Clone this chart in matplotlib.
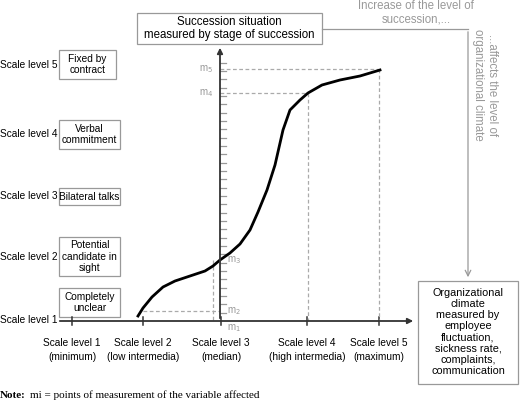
import matplotlib
matplotlib.use("Agg")
import matplotlib.pyplot as plt
from matplotlib.patches import Rectangle

plt.rcParams['font.family'] = ['Liberation Sans', 'DejaVu Sans']

scale_labels = ["Scale level 1", "Scale level 2", "Scale level 3", "Scale level 4", "Scale level 5"]
stage_labels = ["Completely\nunclear", "Potential\ncandidate in\nsight", "Bilateral talks",
                "Verbal\ncommitment", "Fixed by\ncontract"]
x_labels = ["Scale level 1\n(minimum)", "Scale level 2\n(low intermedia)", "Scale level 3\n(median)",
            "Scale level 4\n(high intermedia)", "Scale level 5\n(maximum)"]
# curve (in drawing units: x right, y down)
curve_x = [138, 143, 152, 163, 175, 190, 205, 213, 220, 230, 240, 250, 258, 267, 275, 283, 290, 300, 308, 322, 340, 360, 380]
curve_y = [316, 308, 297, 287, 281, 276, 271, 266, 260, 253, 244, 230, 212, 190, 165, 130, 110, 100, 93, 85, 80, 76, 70]

fig = plt.figure(figsize=(5.2, 4.09), dpi=100)
ax = fig.add_axes([0, 0, 1, 1])
ax.set_xlim(0, 520); ax.set_ylim(409, 0); ax.axis('off')
G = '#999999'
D = '#333333'

# axes
ax.annotate('', xy=(416, 321), xytext=(57, 321), arrowprops=dict(arrowstyle='-|>', color=D, lw=1.3, mutation_scale=8))
ax.annotate('', xy=(220, 45), xytext=(220, 321), arrowprops=dict(arrowstyle='-|>', color=D, lw=1.3, mutation_scale=8))
xt = [72, 143, 221, 307, 379]
for x, lab in zip(xt, x_labels):
    ax.plot([x, x], [317, 325], color=D, lw=1.1)
    ax.text(x, 350, lab, ha='center', va='center', fontsize=7.3, linespacing=1.5)
y = 321 - 8.33
while y > 62:
    ax.plot([220, 226], [y, y], color=G, lw=0.9)
    y -= 8.33

# dashed guides
dk = dict(color='#aaaaaa', lw=0.9, ls=(0, (3, 2)))
ax.plot([143, 220], [311, 311], **dk); ax.plot([213, 213], [260, 321], **dk)
ax.plot([220, 308], [93, 93], **dk); ax.plot([308, 308], [93, 321], **dk)
ax.plot([220, 379], [69, 69], **dk); ax.plot([379, 379], [69, 321], **dk)
for t, xx, yy in [("m$_5$", 206, 69), ("m$_4$", 206, 93), ("m$_3$", 234, 260), ("m$_2$", 234, 311), ("m$_1$", 234, 328)]:
    ax.text(xx, yy, t, color=G, fontsize=7, ha='center', va='center')

ax.plot(curve_x, curve_y, color='black', lw=2)

# left labels and boxes
ly = [320, 257, 196, 134, 65]
boxes = [(59, 288, 61, 29), (59, 237, 61, 39), (59, 188, 61, 17), (59, 120, 61, 29), (59, 50, 57, 29)]
for s, st, yy, (bx, by, bw, bh) in zip(scale_labels, stage_labels, ly, boxes):
    ax.text(0, yy, s, fontsize=7.3, va='center')
    ax.add_patch(Rectangle((bx, by), bw, bh, fill=False, ec=G, lw=0.9))
    ax.text(bx + bw / 2, by + bh / 2, st, fontsize=7.3, ha='center', va='center', linespacing=1.2)

# top box
ax.add_patch(Rectangle((137, 13), 185, 31, fill=False, ec=G, lw=0.9))
ax.text(229.5, 28.5, "Succession situation\nmeasured by stage of succession", fontsize=8.3, ha='center', va='center')
# right box
ax.add_patch(Rectangle((418, 281), 100, 103, fill=False, ec=G, lw=0.9))
ax.text(468, 332, "Organizational\nclimate\nmeasured by\nemployee\nfluctuation,\nsickness rate,\ncomplaints,\ncommunication",
        fontsize=7.8, ha='center', va='center', linespacing=1.15)
# gray connector
ax.plot([322, 468], [29, 29], color=G, lw=0.9)
ax.annotate('', xy=(468, 280), xytext=(468, 29), arrowprops=dict(arrowstyle='->', color=G, lw=0.9))
ax.text(416, 13, "Increase of the level of\nsuccession,...", color=G, fontsize=8.3, ha='center', va='center')
ax.text(485, 85, "...affects the level of\norganizational climate", color=G, fontsize=8.3, ha='center', va='center', rotation=-90)

ax.text(0, 395, "Note:", fontsize=8, va='center', family=['Liberation Serif'], weight='bold')
ax.text(30, 395, "mi = points of measurement of the variable affected", fontsize=8, va='center',
        family=['Liberation Serif'])

fig.savefig("out.png", dpi=100)
